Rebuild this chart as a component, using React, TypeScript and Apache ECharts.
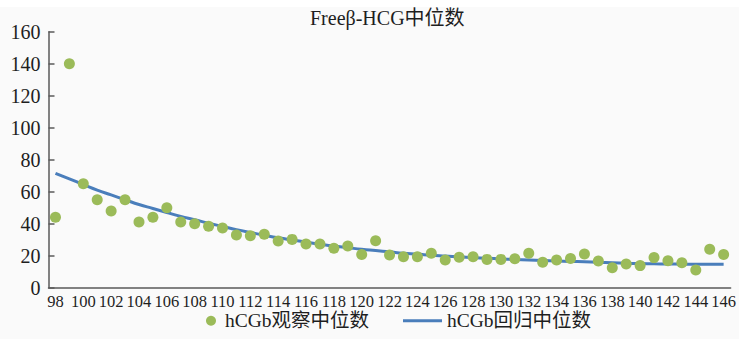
import React, { useEffect, useRef } from "react";
import * as echarts from "echarts";

// Gestational day (x axis categories)
const days: string[] = [
  "98", "99", "100", "101", "102", "103", "104", "105", "106", "107",
  "108", "109", "110", "111", "112", "113", "114", "115", "116", "117",
  "118", "119", "120", "121", "122", "123", "124", "125", "126", "127",
  "128", "129", "130", "131", "132", "133", "134", "135", "136", "137",
  "138", "139", "140", "141", "142", "143", "144", "145", "146",
];

// Observed medians (scatter)
const observedMedian: number[] = [
  44, 140, 65, 55, 48, 55, 41, 44, 50, 41,
  40, 38.4, 37.3, 32.9, 32.5, 33.4, 29.2, 30.2, 27.3, 27.3,
  24.6, 26, 20.8, 29.3, 20.4, 19.4, 19.4, 21.5, 17.3, 19,
  19.4, 17.7, 17.7, 18.1, 21.5, 15.9, 17.3, 18.3, 21, 16.7,
  12.5, 14.8, 13.8, 18.8, 16.9, 15.6, 11.1, 24, 20.8,
];

// Regression medians (line)
const regressionMedian: number[] = [
  71.5, 68, 64.5, 61, 58, 55, 52, 49.5, 47, 44.6,
  42.5, 40.3, 38.3, 36.3, 34.5, 32.8, 31.2, 29.8, 28.5, 27.2,
  26, 25, 24, 23.2, 22.4, 21.6, 21, 20.3, 19.8, 19.3,
  18.8, 18.4, 18, 17.6, 17.3, 17, 16.7, 16.4, 16.2, 15.9,
  15.6, 15.3, 15.1, 14.9, 14.8, 14.7, 14.6, 14.6, 14.6,
];

const yTicks = { min: 0, max: 160, interval: 20 };

const seriesNames = ["hCGb观察中位数", "hCGb回归中位数"];
const titleText = "Freeβ-HCG中位数";

const FONT = "'Liberation Serif', 'Noto Sans CJK SC', serif";
const AXIS_COLOR = "#5a5a5a";
const TEXT_COLOR = "#1e1e1e";
const LINE_COLOR = "#4a7ebb";
const DOT_COLOR = "#9bbb59";

export default function App() {
  const ref = useRef<HTMLDivElement>(null);

  useEffect(() => {
    if (!ref.current) return;
    const chart = echarts.init(ref.current, undefined, { renderer: "svg" });
    chart.setOption({
      animation: false,
      backgroundColor: "transparent",
      textStyle: { fontFamily: FONT },
      title: {
        text: titleText,
        left: 310,
        top: 8,
        padding: 0,
        textStyle: {
          fontFamily: FONT,
          fontSize: 20,
          fontWeight: "normal",
          color: TEXT_COLOR,
        },
      },
      grid: { left: 48.5, right: 7.3, top: 31.7, bottom: 51.3 },
      legend: [
        {
          data: [{ name: seriesNames[0], icon: "circle" }],
          left: 201,
          top: 306,
          itemWidth: 10,
          itemHeight: 10,
          textStyle: {
            fontFamily: FONT,
            fontSize: 19.5,
            color: TEXT_COLOR,
            padding: [0, 0, 0, 4],
          },
        },
        {
          data: [{ name: seriesNames[1], icon: "rect", itemStyle: { color: LINE_COLOR } }],
          left: 398,
          top: 306,
          itemWidth: 39,
          itemHeight: 3,
          textStyle: { fontFamily: FONT, fontSize: 19.5, color: TEXT_COLOR },
        },
      ],
      xAxis: {
        type: "category",
        data: days,
        boundaryGap: true,
        axisLine: { lineStyle: { color: AXIS_COLOR, width: 1.5 } },
        axisTick: {
          alignWithLabel: true,
          inside: true,
          length: 6,
          interval: (index: number) => index > 0 && index % 2 === 0,
          lineStyle: { color: AXIS_COLOR, width: 1.5 },
        },
        axisLabel: {
          interval: 1,
          margin: 5.5,
          fontFamily: FONT,
          fontSize: 16.5,
          color: TEXT_COLOR,
        },
        splitLine: { show: false },
      },
      yAxis: {
        type: "value",
        min: yTicks.min,
        max: yTicks.max,
        interval: yTicks.interval,
        axisLine: { show: true, lineStyle: { color: AXIS_COLOR, width: 1.5 } },
        axisTick: {
          show: true,
          inside: true,
          length: 6,
          lineStyle: { color: AXIS_COLOR, width: 1.5 },
        },
        axisLabel: {
          margin: 8,
          fontFamily: FONT,
          fontSize: 20,
          color: TEXT_COLOR,
        },
        splitLine: { show: false },
      },
      series: [
        {
          name: seriesNames[1],
          type: "line",
          data: regressionMedian,
          smooth: true,
          symbol: "none",
          lineStyle: { color: LINE_COLOR, width: 3 },
          itemStyle: { color: LINE_COLOR },
          z: 2,
        },
        {
          name: seriesNames[0],
          type: "scatter",
          data: observedMedian,
          symbol: "circle",
          symbolSize: 11,
          itemStyle: { color: DOT_COLOR, opacity: 1 },
          z: 3,
        },
      ],
    });
    return () => chart.dispose();
  }, []);

  return (
    <div
      style={{
        position: "absolute",
        left: 0,
        top: 0,
        width: 739,
        height: 339,
        background: "linear-gradient(#ffffff 0px, #ffffff 7px, #fafafa 7px)",
      }}
    >
      <div ref={ref} style={{ width: 739, height: 339 }} />
    </div>
  );
}
